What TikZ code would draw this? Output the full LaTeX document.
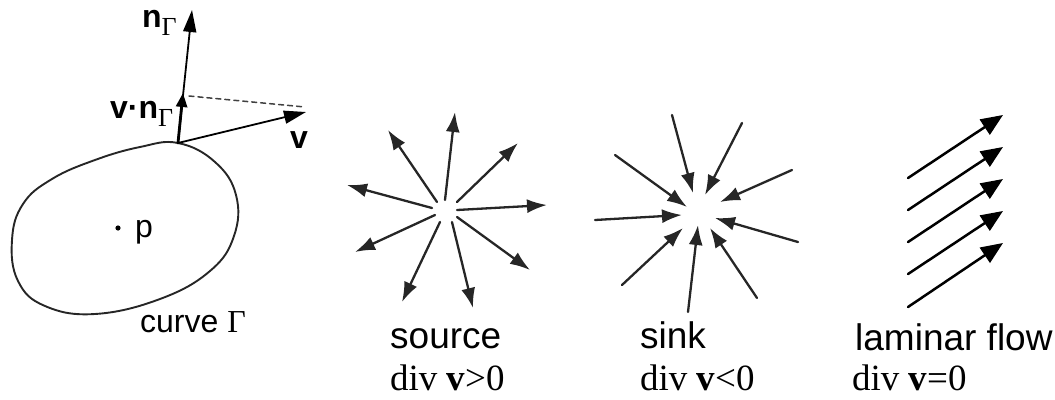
\documentclass[tikz,border=0pt]{standalone}
\usepackage{fontspec}
\setmainfont{Liberation Serif}
\setsansfont{Liberation Sans}
\usetikzlibrary{arrows.meta}

\newcommand{\subGamma}{\raisebox{-8pt}{\rmfamily\fontsize{26}{26}\selectfont Γ}}

\tikzset{
  curvelabel/.style={inner sep=0pt, anchor=base west, font=\sffamily\fontsize{32}{36}\selectfont},
  flowlabel/.style={inner sep=0pt, anchor=base west, font=\sffamily\fontsize{37}{40}\selectfont},
  divlabel/.style={inner sep=0pt, anchor=base west, font=\rmfamily\fontsize{37}{40}\selectfont},
  vecarrow/.style={-{Triangle[length=22pt,width=13pt]}, line width=1.8pt},
  fluxarrow/.style={-{Triangle[length=14pt,width=11pt]}, line width=2.8pt},
  starrow/.style={-{Latex[length=20pt,width=14pt]}, line width=2.3pt, black!85},
  lamarrow/.style={-{Triangle[length=22pt,width=18pt]}, line width=2.5pt}
}

\begin{document}
\begin{tikzpicture}[x=1pt, y=-1pt, line cap=round, line join=round]
\useasboundingbox (0,0) rectangle (1055,399);

% Curve Gamma with point p
\draw[line width=1.9pt, black!85] plot[smooth cycle, tension=0.7] coordinates {
  (178,143) (215,162) (236,195) (234,236) (210,271) (160,299) (95,314)
  (45,306) (18,281) (12,240) (23,204) (52,179) (95,160) (140,147)};
\fill (118,228) circle (2.6pt);
\node[curvelabel] (lblP) at (135,237) {p};
\node[curvelabel] (lblCurve) at (140,332) {curve {\rmfamily Γ}};

% Normal, flux and velocity at the boundary point
\coordinate (base) at (178,143);
\coordinate (nTip) at (192,10);
\coordinate (fluxTip) at (183,93);
\coordinate (vTip) at (306,112);
\coordinate (projEnd) at (305,107);
\draw[vecarrow] (base) -- (nTip);
\draw[fluxarrow] (base) -- (fluxTip);
\draw[vecarrow] (base) -- (vTip);
\draw[line width=1.5pt, black!75, dash pattern=on 5pt off 4pt] (189,96) -- (projEnd);
\node[curvelabel] (lblN) at (142,27) {\textbf{n}\subGamma};
\node[curvelabel] (lblVN) at (110,118) {\textbf{v·n}\subGamma};
\node[curvelabel] (lblV) at (290,148) {\textbf{v}};

% Source
\draw[starrow] (445,200) -- (455,112);
\draw[starrow] (437,202) -- (388,130);
\draw[starrow] (457,202) -- (518,143);
\draw[starrow] (432,208) -- (347,185);
\draw[starrow] (457,210) -- (547,205);
\draw[starrow] (435,215) -- (355,252);
\draw[starrow] (457,217) -- (530,270);
\draw[starrow] (440,222) -- (402,302);
\draw[starrow] (452,222) -- (473,308);
\node[flowlabel] (lblSource) at (390,348) {source};
\node[divlabel] (lblSourceDiv) at (390,390) {div \textbf{v}>0};

% Sink
\draw[starrow] (672,115) -- (693,193);
\draw[starrow] (742,123) -- (705,195);
\draw[starrow] (615,155) -- (687,207);
\draw[starrow] (792,170) -- (720,202);
\draw[starrow] (595,220) -- (682,215);
\draw[starrow] (798,242) -- (715,218);
\draw[starrow] (622,285) -- (683,228);
\draw[starrow] (688,312) -- (698,225);
\draw[starrow] (757,298) -- (710,228);
\node[flowlabel] (lblSink) at (640,348) {sink};
\node[divlabel] (lblSinkDiv) at (640,390) {div \textbf{v}<0};

% Laminar flow
\draw[lamarrow] (908,178) -- (1003,115);
\draw[lamarrow] (908,210) -- (1003,147);
\draw[lamarrow] (908,242) -- (1003,179);
\draw[lamarrow] (908,274) -- (1003,211);
\draw[lamarrow] (908,307) -- (1003,243);
\node[flowlabel] (lblLaminar) at (855,350) {laminar flow};
\node[divlabel] (lblLaminarDiv) at (852,390) {div \textbf{v}=0};
\end{tikzpicture}
\end{document}
